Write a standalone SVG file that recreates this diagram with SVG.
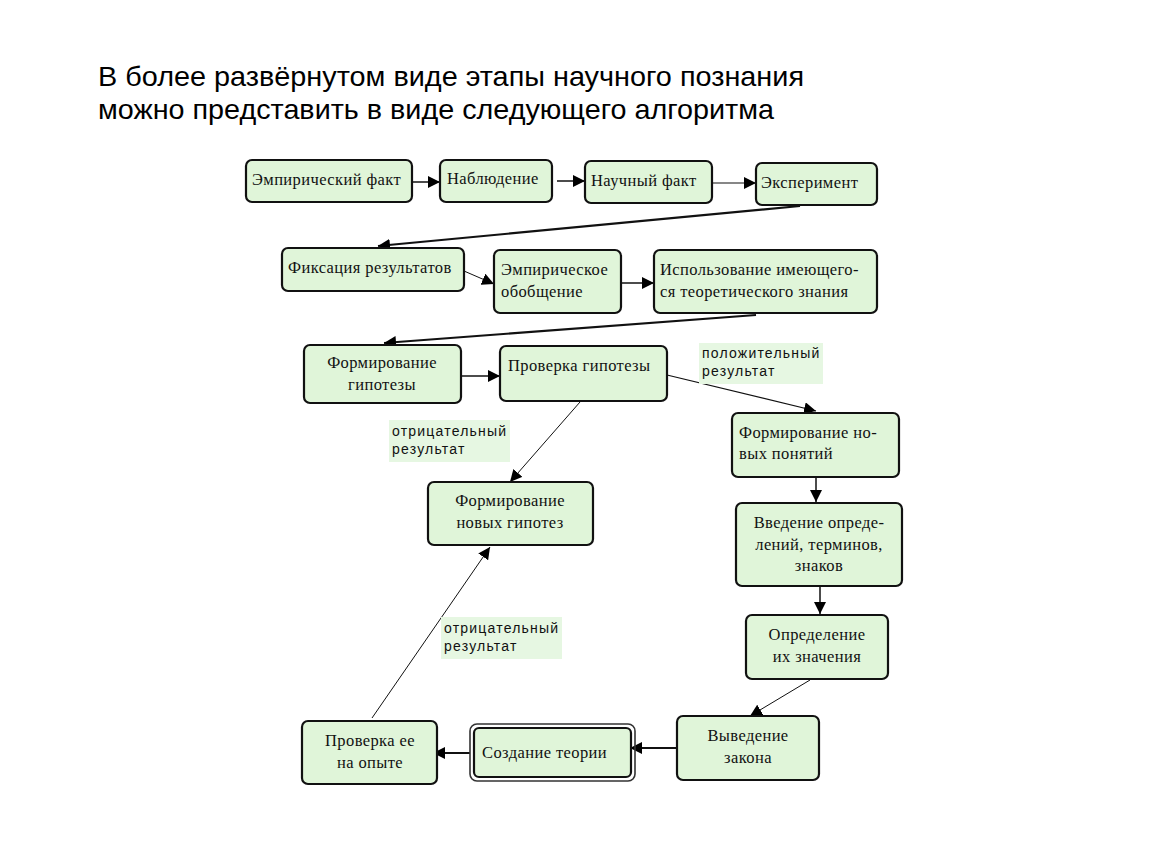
<svg xmlns="http://www.w3.org/2000/svg" width="1150" height="864" viewBox="0 0 1150 864">
<style>
.box{fill:#e0f5d9;stroke:#111;stroke-width:2.2}
.t{font-family:"Liberation Serif","Times New Roman",serif;font-size:16.5px;fill:#111;letter-spacing:0.4px}
.lbl{font-family:"Liberation Sans",Arial,sans-serif;font-size:14px;fill:#111;letter-spacing:1.2px}
.lblbg{fill:#e6f7e2}
.title{font-family:"Liberation Sans",Arial,sans-serif;font-size:28px;fill:#000}
.c{stroke:#111;fill:none}
</style>
<defs>
<marker id="ah" viewBox="0 0 10 10" refX="10" refY="5" markerWidth="12" markerHeight="12" markerUnits="userSpaceOnUse" orient="auto">
<path d="M0,0 L10,5 L0,10 z" fill="#000"/>
</marker>
</defs>
<rect width="1150" height="864" fill="#fff"/>
<g id="title">
<text class="title" x="98" y="86" textLength="706" lengthAdjust="spacingAndGlyphs">В более развёрнутом виде этапы научного познания</text>
<text class="title" x="98" y="119" textLength="676" lengthAdjust="spacingAndGlyphs">можно представить в виде следующего алгоритма</text>
</g>
<g id="connectors">
<line class="c" x1="412" y1="182" x2="440" y2="182" stroke-width="1.5" marker-end="url(#ah)"/>
<line class="c" x1="557" y1="181" x2="585" y2="181" stroke-width="1.5" marker-end="url(#ah)"/>
<line class="c" x1="712" y1="183" x2="756" y2="183" stroke-width="1.2" marker-end="url(#ah)"/>
<line class="c" x1="800" y1="206" x2="378" y2="246" stroke-width="2.2" marker-end="url(#ah)"/>
<line class="c" x1="464" y1="271" x2="494" y2="284" stroke-width="1" marker-end="url(#ah)"/>
<line class="c" x1="621" y1="283" x2="654" y2="283" stroke-width="1.5" marker-end="url(#ah)"/>
<line class="c" x1="756" y1="315" x2="384" y2="343" stroke-width="2.2" marker-end="url(#ah)"/>
<line class="c" x1="461" y1="376" x2="500" y2="376" stroke-width="1.5" marker-end="url(#ah)"/>
<line class="c" x1="667" y1="375" x2="816" y2="411" stroke-width="1.2" marker-end="url(#ah)"/>
<line class="c" x1="580" y1="402" x2="510" y2="482" stroke-width="1" marker-end="url(#ah)"/>
<line class="c" x1="816" y1="477" x2="816" y2="502" stroke-width="1.5" marker-end="url(#ah)"/>
<line class="c" x1="820" y1="586" x2="820" y2="614" stroke-width="1.5" marker-end="url(#ah)"/>
<line class="c" x1="810" y1="680" x2="750" y2="716" stroke-width="1" marker-end="url(#ah)"/>
<line class="c" x1="677" y1="748" x2="630" y2="748" stroke-width="2" marker-end="url(#ah)"/>
<line class="c" x1="470" y1="753" x2="433" y2="753" stroke-width="2" marker-end="url(#ah)"/>
<line class="c" x1="372" y1="718" x2="490" y2="547" stroke-width="1" marker-end="url(#ah)"/>
</g>
<g id="labels">
<g id="lbl-pos"><rect class="lblbg" x="699" y="343" width="124" height="41"/>
<text class="lbl" x="702" y="358">положительный</text><text class="lbl" x="702" y="376">результат</text></g>
<g id="lbl-neg1"><rect class="lblbg" x="389" y="420" width="121" height="42"/>
<text class="lbl" x="392" y="436">отрицательный</text><text class="lbl" x="392" y="454">результат</text></g>
<g id="lbl-neg2"><rect class="lblbg" x="441" y="617" width="121" height="42"/>
<text class="lbl" x="444" y="633">отрицательный</text><text class="lbl" x="444" y="651">результат</text></g>
</g>
<g id="n1"><rect class="box" x="246" y="160" width="166" height="42" rx="6"/><text class="t" x="252" y="185">Эмпирический факт</text></g>
<g id="n2"><rect class="box" x="440" y="160" width="112" height="42" rx="6"/><text class="t" x="447" y="184">Наблюдение</text></g>
<g id="n3"><rect class="box" x="585" y="161" width="127" height="42" rx="6"/><text class="t" x="591" y="186">Научный факт</text></g>
<g id="n4"><rect class="box" x="756" y="163" width="121" height="42" rx="6"/><text class="t" x="761" y="188">Эксперимент</text></g>
<g id="n5"><rect class="box" x="282" y="248" width="182" height="43" rx="6"/><text class="t" x="288" y="273">Фиксация результатов</text></g>
<g id="n6"><rect class="box" x="494" y="250" width="127" height="63" rx="6"/><text class="t" x="501" y="275">Эмпирическое</text><text class="t" x="501" y="297">обобщение</text></g>
<g id="n7"><rect class="box" x="654" y="250" width="223" height="63" rx="6"/><text class="t" x="660" y="275">Использование имеющего-</text><text class="t" x="660" y="297">ся  теоретического знания</text></g>
<g id="n8"><rect class="box" x="304" y="345" width="157" height="58" rx="6"/><text class="t" x="382" y="368" text-anchor="middle">Формирование</text><text class="t" x="382" y="390" text-anchor="middle">гипотезы</text></g>
<g id="n9"><rect class="box" x="500" y="346" width="167" height="55" rx="6"/><text class="t" x="508" y="371">Проверка гипотезы</text></g>
<g id="n10"><rect class="box" x="732" y="413" width="167" height="64" rx="6"/><text class="t" x="739" y="438">Формирование но-</text><text class="t" x="739" y="459">вых понятий</text></g>
<g id="n11"><rect class="box" x="736" y="503" width="166" height="83" rx="6"/><text class="t" x="819" y="528" text-anchor="middle">Введение опреде-</text><text class="t" x="819" y="550" text-anchor="middle">лений, терминов,</text><text class="t" x="819" y="571" text-anchor="middle">знаков</text></g>
<g id="n12"><rect class="box" x="746" y="615" width="142" height="64" rx="6"/><text class="t" x="817" y="640" text-anchor="middle">Определение</text><text class="t" x="817" y="662" text-anchor="middle">их значения</text></g>
<g id="n13"><rect class="box" x="677" y="716" width="142" height="64" rx="6"/><text class="t" x="748" y="741" text-anchor="middle">Выведение</text><text class="t" x="748" y="763" text-anchor="middle">закона</text></g>
<g id="n14"><rect x="470" y="724" width="165" height="57" rx="7" fill="none" stroke="#333" stroke-width="1.6"/><rect class="box" x="474" y="728" width="157" height="49" rx="5" stroke-width="3"/><text class="t" x="482" y="758">Создание теории</text></g>
<g id="n15"><rect class="box" x="302" y="721" width="135" height="63" rx="6"/><text class="t" x="370" y="746" text-anchor="middle">Проверка ее</text><text class="t" x="370" y="768" text-anchor="middle">на опыте</text></g>
<g id="n16"><rect class="box" x="428" y="482" width="165" height="63" rx="6"/><text class="t" x="510" y="506" text-anchor="middle">Формирование</text><text class="t" x="510" y="528" text-anchor="middle">новых гипотез</text></g>
</svg>
